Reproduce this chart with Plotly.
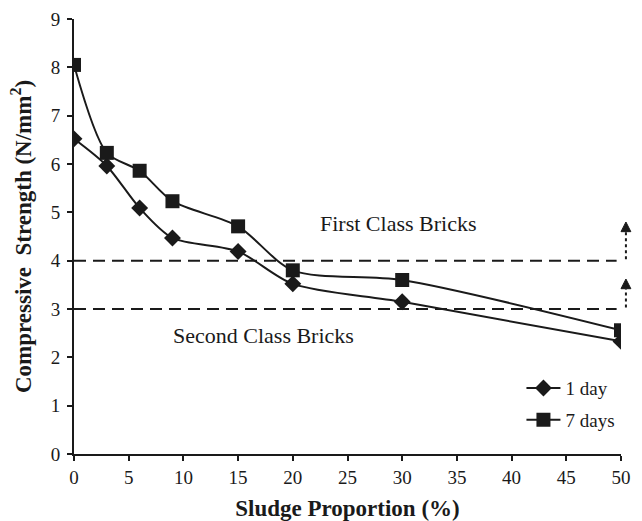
import plotly.graph_objects as go

# Sludge proportion (%) and compressive strength (N/mm²)
sludge = [0, 3, 6, 9, 15, 20, 30, 50]
strength_1day = [6.52, 5.96, 5.09, 4.47, 4.19, 3.52, 3.15, 2.33]
strength_7days = [8.05, 6.23, 5.86, 5.23, 4.71, 3.80, 3.60, 2.56]

x_ticks = [0, 5, 10, 15, 20, 25, 30, 35, 40, 45, 50]
y_ticks = [0, 1, 2, 3, 4, 5, 6, 7, 8, 9]

first_class_limit = 4
second_class_limit = 3

FONT = "Liberation Serif"
INK = "#1a1a1a"
Y_MAX = 9

fig = go.Figure()

fig.add_trace(go.Scatter(
    x=sludge, y=strength_1day, name="1 day", legendgroup="a",
    mode="lines+markers", line=dict(color=INK, width=2, shape="spline", smoothing=0.8),
    marker=dict(symbol="diamond", size=13, color=INK),
))
fig.add_trace(go.Scatter(
    x=sludge, y=strength_7days, name="7 days", legendgroup="b",
    mode="lines+markers", line=dict(color=INK, width=2, shape="spline", smoothing=0.8),
    marker=dict(symbol="square", size=14, color=INK),
))

# class limits
for lim in (first_class_limit, second_class_limit):
    fig.add_shape(type="line", xref="x", yref="y", x0=0, x1=49.6, y0=lim, y1=lim,
                  line=dict(color=INK, width=2, dash="12px,7px"))

# dotted upward arrows beside each limit
ax = 1.009
for lim, top in ((first_class_limit, 4.8), (second_class_limit, 3.62)):
    head = top - 0.2
    fig.add_shape(type="line", xref="paper", yref="paper",
                  x0=ax, x1=ax, y0=(lim + 0.03) / Y_MAX, y1=head / Y_MAX,
                  line=dict(color=INK, width=2, dash="dot"))
    fig.add_shape(type="path", xref="paper", yref="paper",
                  path=f"M {ax - 0.009} {head / Y_MAX} L {ax + 0.009} {head / Y_MAX} L {ax} {top / Y_MAX} Z",
                  fillcolor=INK, line=dict(color=INK, width=1))

fig.add_annotation(x=22.3, y=4.76, xref="x", yref="y", text="First Class Bricks",
                   showarrow=False, xanchor="left", yanchor="middle",
                   font=dict(family=FONT, size=22, color=INK))
fig.add_annotation(x=8.87, y=2.46, xref="x", yref="y", text="Second Class Bricks",
                   showarrow=False, xanchor="left", yanchor="middle",
                   font=dict(family=FONT, size=22, color=INK))

axis_common = dict(
    showline=True, linecolor=INK, linewidth=2, mirror=False,
    ticks="outside", ticklen=5, tickwidth=2, tickcolor=INK,
    showgrid=False, zeroline=False, automargin=False,
    tickfont=dict(family=FONT, size=19, color=INK),
)

fig.update_xaxes(range=[0, 50], tickvals=x_ticks, ticklabelstandoff=0, **axis_common,
                 title=dict(text="<b>Sludge Proportion (%)</b>", standoff=17,
                            font=dict(family=FONT, size=23, color=INK)))
fig.update_yaxes(range=[0, Y_MAX], tickvals=y_ticks, ticklabelstandoff=3, **axis_common,
                 title=dict(text="<b>Compressive  Strength (N/mm<sup>2</sup>)</b>", standoff=13,
                            font=dict(family=FONT, size=23, color=INK)))

fig.update_layout(
    width=642, height=521,
    margin=dict(l=74, r=21, t=19, b=67),
    plot_bgcolor="white", paper_bgcolor="white",
    showlegend=True,
    legend=dict(x=0.818, y=0.195, xanchor="left", yanchor="top",
                font=dict(family=FONT, size=19, color=INK), itemwidth=34,
                bgcolor="rgba(0,0,0,0)", tracegroupgap=4, traceorder="grouped"),
)

fig.write_html("out.html")
